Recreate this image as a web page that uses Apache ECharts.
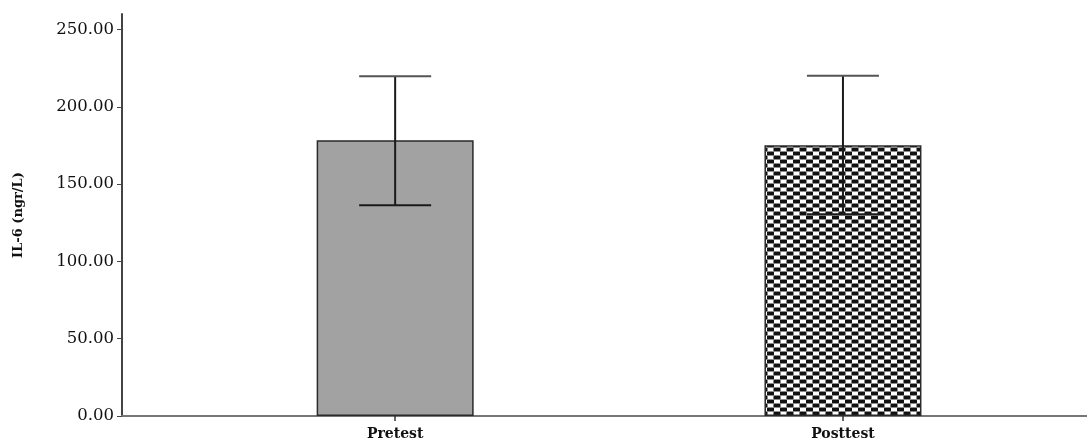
<!DOCTYPE html>
<html>
<head>
<meta charset="utf-8">
<script src="https://cdn.jsdelivr.net/npm/echarts@6/dist/echarts.min.js"></script>
<style>
html,body{margin:0;padding:0;background:#fff;}
#chart{width:1087px;height:448px;}
</style>
</head>
<body>
<div id="chart"></div>
<script>
const categories = ['Pretest', 'Posttest'];
const meanValues = [178.3, 175.1];
const upperValues = [219.8, 220.0];
const lowerValues = [136.3, 130.5];
const yTickValues = [0, 50, 100, 150, 200, 250];

// checkerboard pattern for Posttest
const pc = document.createElement('canvas');
pc.width = 13; pc.height = 8;
const ctx = pc.getContext('2d');
ctx.fillStyle = '#ffffff'; ctx.fillRect(0, 0, 13, 8);
ctx.fillStyle = '#111111';
ctx.fillRect(0, 0, 7, 3);
ctx.fillRect(6.5, 4, 7, 3);
ctx.fillRect(-0.5, 4, 1, 3);
ctx.fillStyle = '#8a8a8a';
ctx.fillRect(0, 3, 13, 1);
ctx.fillRect(0, 7, 13, 1);

const barColors = ['#a2a2a2', {image: pc, repeat: 'repeat'}];

const chart = echarts.init(document.getElementById('chart'));
const serif = 'DejaVu Serif';
chart.setOption({
  backgroundColor: '#ffffff',
  animation: false,
  grid: {left: 122, right: 0, top: 14, bottom: 32},
  xAxis: {
    type: 'value',
    min: 0.39,
    max: 2.545,
    splitLine: {show: false},
    axisLine: {show: true, lineStyle: {color: '#777', width: 2}},
    axisTick: {show: true, customValues: [1, 2], length: 5, lineStyle: {color: '#333', width: 1.5}},
    axisLabel: {
      customValues: [1, 2],
      formatter: v => categories[Math.round(v) - 1] || '',
      fontFamily: serif, fontWeight: 'bold', fontSize: 14, color: '#111', margin: 11
    }
  },
  yAxis: {
    type: 'value',
    min: 0,
    max: 260,
    name: 'IL-6 (ngr/L)',
    nameLocation: 'middle',
    nameGap: 97,
    nameTextStyle: {fontFamily: serif, fontWeight: 'bold', fontSize: 13, color: '#111'},
    splitLine: {show: false},
    axisLine: {show: true, lineStyle: {color: '#444', width: 2}},
    axisTick: {show: true, customValues: yTickValues, length: 5, lineStyle: {color: '#444', width: 1}},
    axisLabel: {
      customValues: yTickValues,
      formatter: v => v.toFixed(2),
      fontFamily: serif, fontSize: 16.5, color: '#111', margin: 8
    }
  },
  series: [
    {
      type: 'bar',
      barWidth: 157,
      data: meanValues.map((v, i) => ({
        value: [i + 1, v],
        itemStyle: {color: barColors[i], borderColor: '#2a2a2a', borderWidth: 1.5}
      }))
    },
    {
      type: 'custom',
      z: 10,
      data: categories.map((c, i) => [i + 1, lowerValues[i], upperValues[i]]),
      renderItem: function (params, api) {
        const x = api.value(0);
        const lo = api.coord([x, api.value(1)]);
        const hi = api.coord([x, api.value(2)]);
        const hw = 36;
        const style = {stroke: '#1a1a1a', lineWidth: 2};
        return {
          type: 'group',
          children: [
            {type: 'line', shape: {x1: hi[0], y1: hi[1], x2: lo[0], y2: lo[1]}, style: style},
            {type: 'line', shape: {x1: hi[0] - hw, y1: hi[1], x2: hi[0] + hw, y2: hi[1]}, style: {stroke: '#555', lineWidth: 2}},
            {type: 'line', shape: {x1: lo[0] - hw, y1: lo[1], x2: lo[0] + hw, y2: lo[1]}, style: style}
          ]
        };
      }
    }
  ]
});
</script>
</body>
</html>
